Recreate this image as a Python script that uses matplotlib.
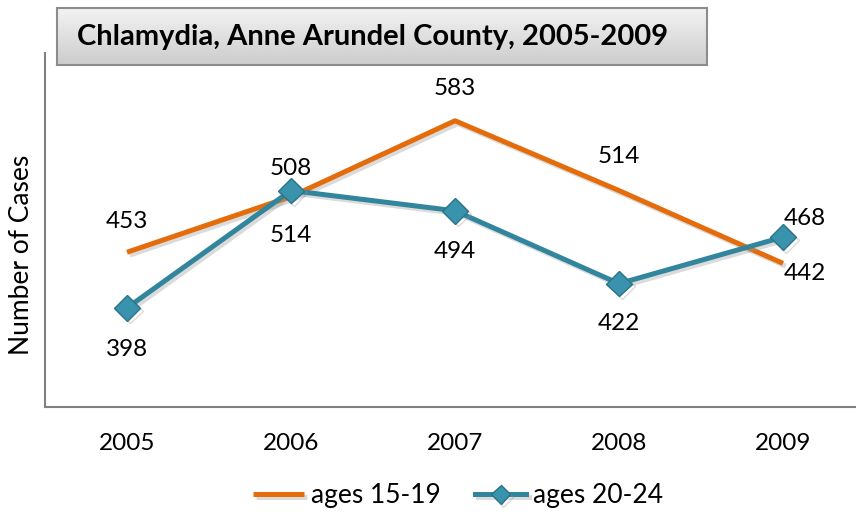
import matplotlib
matplotlib.use("Agg")
import matplotlib.pyplot as plt
import matplotlib.patheffects as pe
import numpy as np

# ---- data ----
years = ["2005", "2006", "2007", "2008", "2009"]
ages_15_19 = [453, 508, 583, 514, 442]
ages_20_24 = [398, 514, 494, 422, 468]

# label offsets in pixels (dx, dy)
off_15_19 = [(0, 31), (0, 28), (0, 32), (0, 34), (22, -10)]
off_20_24 = [(0, -42), (0, -45), (0, -41), (0, -40), (22, 19)]

ORANGE = "#E46C0A"
TEAL = "#31859C"
FONT = "Lato"

fig = plt.figure(figsize=(8.56, 5.17), dpi=100)
W, H = 856, 517

# plot area: x from 45 to 865 px, y from 53 to 407 px
ax = fig.add_axes([45 / W, 1 - 407 / H, 820 / W, 354 / H])
x = np.arange(1, len(years) + 1)

shadow = [pe.SimpleLineShadow(offset=(2, -2), shadow_color="#999999", alpha=0.35), pe.Normal()]
ax.plot(x, ages_15_19, color=ORANGE, linewidth=3.6, solid_capstyle="butt",
        label="ages 15-19", path_effects=shadow, zorder=2)
ax.plot(x, ages_20_24, color=TEAL, linewidth=3.6, marker="D", markersize=13,
        markerfacecolor="#3A93AD", markeredgecolor="#2A7489", markeredgewidth=1,
        label="ages 20-24", path_effects=shadow, zorder=3)

for xi, v, (dx, dy) in zip(x, ages_15_19, off_15_19):
    ax.annotate(str(v), (xi, v), xytext=(dx, dy), textcoords="offset pixels",
                ha="center", va="center", fontsize=17.5, family=FONT)
for xi, v, (dx, dy) in zip(x, ages_20_24, off_20_24):
    ax.annotate(str(v), (xi, v), xytext=(dx, dy), textcoords="offset pixels",
                ha="center", va="center", fontsize=17.5, family=FONT)

ax.set_xlim(0.5, 5.5)
ax.set_ylim(300, 650)
ax.set_xticks(x)
ax.set_xticklabels(years, fontsize=17.5, family=FONT)
ax.set_yticks([])
ax.tick_params(axis="x", length=0, pad=19)
for s in ["top", "right"]:
    ax.spines[s].set_visible(False)
for s in ["left", "bottom"]:
    ax.spines[s].set_color("#808080")
    ax.spines[s].set_linewidth(1.5)

fig.text(22 / W, 1 - 255 / H, "Number of Cases", rotation=90, ha="center", va="center",
         fontsize=19, family=FONT)

# title box with gradient
tax = fig.add_axes([57 / W, 1 - 65 / H, 650 / W, 57 / H])
grad = np.linspace(0.95, 0.80, 64).reshape(-1, 1)
tax.imshow(grad, cmap="gray", vmin=0, vmax=1, aspect="auto", extent=[0, 1, 0, 1])
tax.set_xticks([])
tax.set_yticks([])
for s in tax.spines.values():
    s.set_color("#8c8c8c")
    s.set_linewidth(1.5)
tax.text(20 / 650, 0.5, "Chlamydia, Anne Arundel County, 2005-2009", transform=tax.transAxes,
         ha="left", va="center", fontsize=21, fontweight="bold", family=FONT)

leg = fig.legend(loc="center", bbox_to_anchor=(458 / W, 1 - 496 / H), ncol=2, frameon=False,
                 prop={"family": FONT, "size": 19}, handlelength=1.95, columnspacing=1.3,
                 handletextpad=0.25, markerscale=0.75)

fig.savefig("out.png", dpi=100)
